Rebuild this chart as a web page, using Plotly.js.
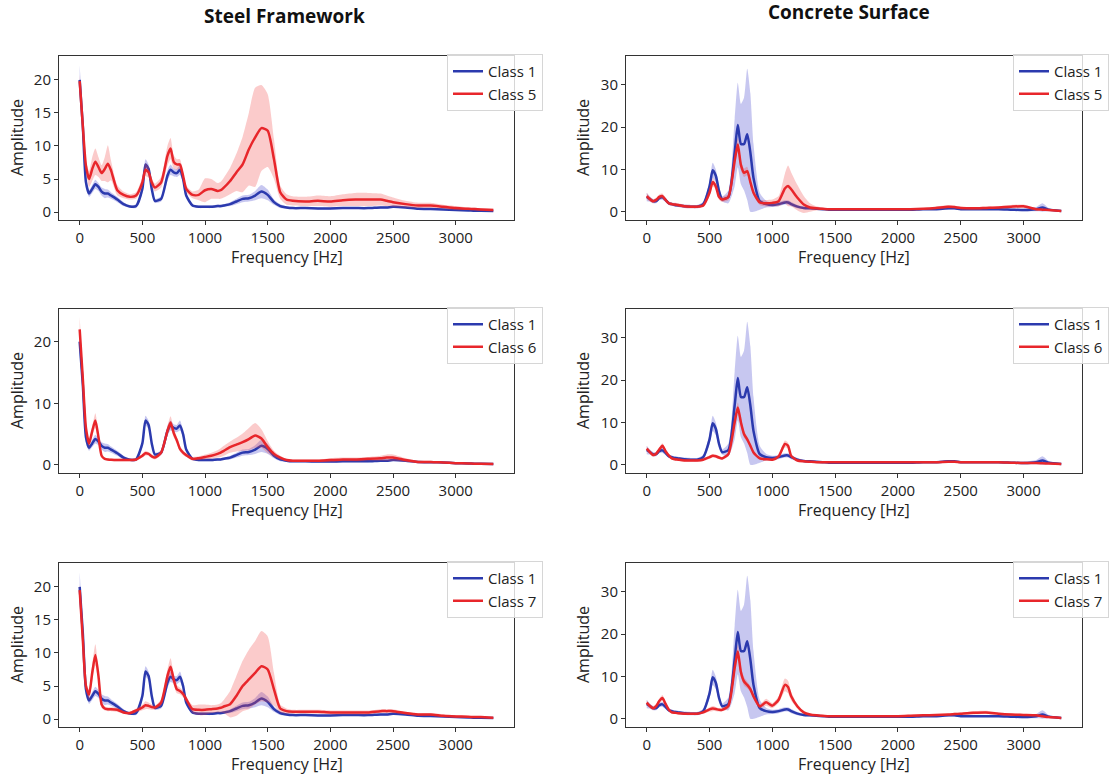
<!DOCTYPE html>
<html>
<head>
<meta charset="utf-8">
<script src="https://cdn.plot.ly/plotly-3.0.1.min.js"></script>
<style>html,body{margin:0;padding:0;background:#fff;}#chart{width:1119px;height:776px;}</style>
</head>
<body>
<div id="chart"></div>
<script>
const freq = [0,25,50,75,100,125,150,175,200,225,250,300,350,400,450,500,525,550,575,600,650,700,725,750,775,800,825,850,900,950,1000,1050,1100,1125,1150,1200,1250,1300,1350,1400,1450,1500,1550,1600,1650,1700,1800,1900,2000,2100,2200,2300,2400,2450,2500,2600,2700,2800,2900,3000,3100,3150,3200,3300];

const columnTitles = ["Steel Framework", "Concrete Surface"];
const classNames = ["Class 1", "Class 5", "Class 6", "Class 7"];
const xTicks = [0,500,1000,1500,2000,2500,3000];

const steelC1Mean = [20,13,4.5,2.8,3.5,4.2,3.8,3.1,2.8,2.8, 2.5,1.9,1.2,0.85,0.9,3.5,7.2,6.5,3.5,1.7, 2.0,5.5,6.4,6.0,5.9,6.4,5.0,2.5,1.0,0.8, 0.8,0.8,0.9,0.9,1.0,1.2,1.6,2.0,2.1,2.5, 3.1,2.6,1.5,0.9,0.7,0.6,0.6,0.55,0.55,0.6, 0.6,0.6,0.7,0.7,0.8,0.7,0.5,0.45,0.4,0.3, 0.25,0.2,0.2,0.15];
const steelC1Std = [2.2,1.2,0.8,0.5,0.6,0.7,0.6,0.6,0.7,0.6, 0.5,0.4,0.3,0.2,0.3,0.6,0.8,0.7,0.5,0.3, 0.4,0.8,0.8,0.6,0.6,0.8,0.6,0.4,0.2,0.2, 0.2,0.2,0.2,0.2,0.2,0.3,0.4,0.5,0.5,0.7, 1.0,0.8,0.4,0.3,0.2,0.15,0.15,0.15,0.15,0.15, 0.15,0.15,0.15,0.15,0.15,0.15,0.1,0.1,0.1,0.1, 0.1,0.1,0.1,0.1];

const steelC5Mean = [19.8,13,7.0,5.0,6.5,7.6,6.8,5.9,6.5,7.3, 6.3,3.3,2.6,2.3,2.5,4.5,6.4,6.0,4.5,3.7, 4.5,8.5,9.6,7.6,7.2,7.2,5.5,3.5,2.6,2.6, 3.3,3.5,3.2,3.3,3.7,4.7,6.0,7.2,9.5,11.3, 12.7,12.3,8.0,3.0,1.9,1.7,1.6,1.7,1.6,1.8, 1.9,1.9,1.9,1.7,1.5,1.2,1.0,1.0,0.8,0.6, 0.5,0.45,0.4,0.3];
const steelC5Std = [1.0,1.0,0.8,1.2,1.8,2.0,1.5,1.2,1.8,2.8, 1.5,0.8,0.5,0.4,0.5,0.8,1.0,0.8,0.6,0.6, 0.8,1.5,1.6,1.0,0.8,0.8,0.6,0.5,0.5,0.8, 1.8,1.5,1.2,1.3,1.5,2.0,2.8,4.2,5.5,7.5, 6.5,5.5,3.0,1.0,0.8,0.7,0.7,0.8,0.8,0.9, 1.0,1.0,0.9,0.8,0.7,0.5,0.4,0.4,0.3,0.3, 0.2,0.2,0.2,0.2];

const steelC6Mean = [22,14,6.0,3.5,5.5,7.2,4.5,1.5,1.0,0.9, 0.85,0.8,0.8,0.8,0.9,1.5,1.9,1.8,1.4,1.2, 2.0,5.5,6.9,5.2,4.0,2.6,2.0,1.6,1.0,1.1, 1.3,1.5,1.8,2.0,2.3,2.9,3.3,3.7,4.2,4.8, 4.3,2.9,1.8,1.2,0.8,0.7,0.7,0.7,0.8,0.9, 0.9,1.0,1.1,1.2,1.2,0.8,0.5,0.5,0.4,0.3, 0.25,0.2,0.2,0.15];
const steelC6Std = [2.0,1.0,0.6,0.6,0.8,1.2,0.8,0.3,0.2,0.2, 0.2,0.2,0.2,0.2,0.2,0.3,0.4,0.3,0.3,0.3, 0.4,0.8,1.0,0.7,0.5,0.4,0.4,0.3,0.3,0.3, 0.4,0.5,0.6,0.7,0.8,0.9,1.1,1.4,1.8,2.0, 1.5,1.0,0.5,0.3,0.2,0.2,0.2,0.2,0.3,0.3, 0.3,0.3,0.4,0.5,0.5,0.3,0.2,0.2,0.1,0.1, 0.1,0.1,0.1,0.1];

const steelC7Mean = [19.5,12,5.0,3.7,7.0,9.7,6.5,2.2,1.6,1.5, 1.5,1.4,1.0,0.9,1.3,1.75,2.1,2.0,1.8,1.75, 2.5,6.5,7.9,6.0,4.5,4.25,3.8,3.0,1.5,1.4, 1.4,1.5,1.6,1.7,1.9,2.25,3.5,5.0,6.0,7.0, 8.0,7.5,4.5,1.6,1.2,1.1,1.1,1.1,1.0,1.0, 1.0,1.0,1.2,1.2,1.2,0.9,0.7,0.7,0.5,0.4, 0.35,0.3,0.3,0.2];
const steelC7Std = [1.0,0.8,0.6,0.8,1.2,1.6,1.0,0.5,0.3,0.3, 0.3,0.3,0.2,0.2,0.3,0.4,0.6,0.5,0.4,0.3, 0.5,1.0,1.3,0.8,0.6,0.5,0.5,0.4,0.6,0.8, 0.8,0.6,0.6,0.7,1.0,2.0,3.0,3.8,4.5,4.8, 5.3,5.0,2.5,0.6,0.4,0.3,0.3,0.3,0.3,0.3, 0.3,0.3,0.3,0.3,0.3,0.2,0.2,0.2,0.2,0.2, 0.1,0.1,0.1,0.1];

const concreteC1Mean = [3.5,3.0,2.5,2.5,3.2,3.4,2.8,2.0,1.8,1.6, 1.5,1.3,1.2,1.2,1.8,6.0,9.8,8.5,5.0,3.0, 3.5,14.0,20.5,16.0,16.0,18.3,14.0,8.0,2.5,1.8, 1.6,1.8,2.2,2.2,1.8,1.2,0.9,0.8,0.7,0.6, 0.5,0.5,0.5,0.5,0.5,0.5,0.5,0.5,0.5,0.5, 0.6,0.6,0.8,0.8,0.6,0.6,0.6,0.6,0.5,0.4, 0.6,1.0,0.5,0.2];
const concreteC1Std = [1.0,0.6,0.5,0.5,0.5,0.6,0.5,0.4,0.4,0.4, 0.4,0.4,0.4,0.4,0.5,1.2,1.8,1.5,1.0,0.6, 1.5,8.0,10.0,9.5,11.0,15.5,14.0,8.0,2.0,0.8, 0.5,0.5,0.5,0.5,0.5,0.4,0.3,0.3,0.2,0.2, 0.2,0.2,0.2,0.2,0.2,0.2,0.2,0.2,0.2,0.2, 0.2,0.2,0.3,0.3,0.2,0.2,0.2,0.2,0.2,0.3, 0.5,1.0,0.4,0.1];

const concreteC5Mean = [3.7,3.0,2.5,2.8,3.5,3.7,2.8,2.0,1.8,1.7, 1.6,1.3,1.2,1.2,1.5,4.5,7.0,6.0,3.5,2.9, 3.5,12.0,15.9,11.0,9.2,9.6,7.0,4.5,2.2,2.0, 2.1,2.5,5.5,6.1,5.3,3.3,1.7,1.0,0.8,0.7, 0.6,0.6,0.6,0.6,0.6,0.6,0.6,0.6,0.6,0.6, 0.7,0.9,1.2,1.1,0.9,0.8,0.9,1.0,1.2,1.3, 0.6,0.5,0.4,0.2];
const concreteC5Std = [0.8,0.6,0.5,0.5,0.6,0.6,0.5,0.4,0.4,0.4, 0.4,0.4,0.4,0.4,0.4,0.8,1.0,0.8,0.6,0.6, 0.8,1.5,1.5,1.2,1.0,1.0,0.8,0.6,0.6,0.8, 0.8,1.2,3.5,4.8,4.0,3.0,2.0,1.0,0.5,0.3, 0.2,0.2,0.2,0.2,0.2,0.2,0.2,0.2,0.2,0.2, 0.2,0.3,0.4,0.3,0.3,0.3,0.3,0.3,0.4,0.4, 0.2,0.2,0.2,0.1];

const concreteC6Mean = [3.8,3.0,2.3,2.6,3.6,4.5,3.2,2.2,1.5,1.3, 1.2,1.0,1.0,1.0,1.2,1.8,2.1,2.0,1.7,1.5, 2.5,10.0,13.5,10.0,7.2,6.0,4.5,2.9,1.5,1.3, 1.2,2.0,4.9,4.5,2.1,1.0,0.8,0.7,0.6,0.6, 0.6,0.6,0.6,0.6,0.6,0.6,0.6,0.6,0.6,0.6, 0.6,0.6,0.7,0.7,0.6,0.6,0.6,0.6,0.5,0.4, 0.4,0.35,0.3,0.2];
const concreteC6Std = [0.6,0.5,0.4,0.4,0.5,0.6,0.5,0.3,0.3,0.3, 0.3,0.3,0.3,0.3,0.3,0.4,0.4,0.4,0.3,0.3, 0.5,1.0,1.2,1.0,0.8,0.6,0.5,0.4,0.3,0.3, 0.3,0.4,0.8,0.7,0.4,0.2,0.2,0.2,0.1,0.1, 0.1,0.1,0.1,0.1,0.1,0.1,0.1,0.1,0.1,0.1, 0.1,0.1,0.2,0.2,0.1,0.1,0.1,0.1,0.1,0.1, 0.1,0.1,0.1,0.1];

const concreteC7Mean = [3.8,3.0,2.5,3.0,4.2,4.9,3.5,2.2,1.5,1.4, 1.3,1.2,1.2,1.2,1.5,2.2,2.4,2.3,2.1,2.1, 3.0,12.0,15.9,11.0,8.8,8.0,7.0,5.3,2.9,3.9, 3.1,4.5,8.0,7.5,5.3,2.9,1.5,1.0,0.8,0.7, 0.6,0.6,0.6,0.6,0.6,0.6,0.6,0.6,0.6,0.7, 0.8,0.9,1.0,1.1,1.2,1.4,1.5,1.2,1.0,0.9, 0.8,0.6,0.4,0.2];
const concreteC7Std = [0.6,0.5,0.5,0.5,0.6,0.7,0.5,0.4,0.3,0.3, 0.3,0.3,0.3,0.3,0.3,0.5,0.6,0.5,0.4,0.4, 0.6,1.5,1.5,1.2,1.0,0.8,0.7,0.6,0.5,0.8, 0.6,0.8,1.5,1.5,1.0,0.5,0.3,0.2,0.2,0.2, 0.1,0.1,0.1,0.1,0.1,0.1,0.1,0.1,0.1,0.2, 0.2,0.2,0.2,0.3,0.3,0.4,0.4,0.3,0.3,0.2, 0.2,0.2,0.1,0.1];

const BLUE = "#2b3aae", BLUE_FILL = "rgba(70,70,205,0.30)";
const RED = "#e8262b", RED_FILL = "rgba(240,70,70,0.28)";
const FONT = "Open Sans, Noto Sans, DejaVu Sans, sans-serif";

const panels = [
  {row:0, col:0, base:[steelC1Mean, steelC1Std], other:[steelC5Mean, steelC5Std], name:classNames[1], yr:[-1.2,23.6], yt:[0,5,10,15,20]},
  {row:0, col:1, base:[concreteC1Mean, concreteC1Std], other:[concreteC5Mean, concreteC5Std], name:classNames[1], yr:[-1.95,36.8], yt:[0,10,20,30]},
  {row:1, col:0, base:[steelC1Mean, steelC1Std], other:[steelC6Mean, steelC6Std], name:classNames[2], yr:[-1.3,25.3], yt:[0,10,20]},
  {row:1, col:1, base:[concreteC1Mean, concreteC1Std], other:[concreteC6Mean, concreteC6Std], name:classNames[2], yr:[-1.95,36.8], yt:[0,10,20,30]},
  {row:2, col:0, base:[steelC1Mean, steelC1Std], other:[steelC7Mean, steelC7Std], name:classNames[3], yr:[-1.2,23.6], yt:[0,5,10,15,20]},
  {row:2, col:1, base:[concreteC1Mean, concreteC1Std], other:[concreteC7Mean, concreteC7Std], name:classNames[3], yr:[-1.95,36.8], yt:[0,10,20,30]}
];

const W = 1119, H = 776;
const colPx = [[59,514],[626,1082]];
const rowPx = [[56,220],[309,473],[563,727]];

const traces = [];
const layout = {
  width: W, height: H,
  margin: {l:0, r:0, t:0, b:0},
  paper_bgcolor: "#fff", plot_bgcolor: "#fff",
  font: {family: FONT, size: 15, color: "#222"},
  showlegend: true,
  annotations: [],
  hovermode: false
};

function band(mean, std, sign){ return mean.map((m,i)=> m + sign*std[i]); }

panels.forEach((p, k) => {
  const n = k + 1;
  const xa = n === 1 ? "x" : "x" + n;
  const ya = n === 1 ? "y" : "y" + n;
  const lg = n === 1 ? "legend" : "legend" + n;
  const series = [[p.base, BLUE, BLUE_FILL, classNames[0]], [p.other, RED, RED_FILL, p.name]];
  series.forEach(([ms, col, fcol, nm]) => {
    const [mean, std] = ms;
    traces.push({x: freq, y: band(mean, std, -1), xaxis: xa, yaxis: ya, mode: "lines",
      line: {width: 0, shape: "spline", smoothing: 0.6, color: fcol}, showlegend: false, hoverinfo: "skip"});
    traces.push({x: freq, y: band(mean, std, 1), xaxis: xa, yaxis: ya, mode: "lines", fill: "tonexty",
      fillcolor: fcol, line: {width: 0, shape: "spline", smoothing: 0.6, color: fcol}, showlegend: false, hoverinfo: "skip"});
    traces.push({x: freq, y: mean, xaxis: xa, yaxis: ya, mode: "lines", name: nm, legend: lg,
      line: {width: 2.5, color: col, shape: "spline", smoothing: 0.6}});
  });
  const cx = colPx[p.col], ry = rowPx[p.row];
  const axCommon = {showline: true, mirror: true, linecolor: "#333", linewidth: 1, ticks: "outside",
    ticklen: 4, tickcolor: "#333", showgrid: false, zeroline: false, tickfont: {size: 15, color: "#222", family: FONT}};
  layout["xaxis" + (n === 1 ? "" : n)] = Object.assign({}, axCommon, {
    domain: [cx[0]/W, cx[1]/W], anchor: ya, range: [-165, 3465], tickvals: xTicks, ticktext: xTicks.map(String)});
  layout["yaxis" + (n === 1 ? "" : n)] = Object.assign({}, axCommon, {
    domain: [1 - ry[1]/H, 1 - ry[0]/H], anchor: xa, range: p.yr, tickvals: p.yt, ticktext: p.yt.map(String)});
  layout[lg] = {x: (p.col === 0 ? 447 : 1013)/W, y: 1 - (ry[0]-2)/H, xanchor: "left", yanchor: "top",
    bgcolor: "rgba(255,255,255,0.8)", bordercolor: "#d6d6d6", borderwidth: 1, traceorder: "normal",
    font: {size: 15, color: "#222", family: FONT}, tracegroupgap: 0};
  layout.annotations.push({text: "Frequency [Hz]", xref: "paper", yref: "paper", showarrow: false,
    x: (cx[0]+cx[1])/2/W, y: 1 - (ry[1]+37)/H, xanchor: "center", yanchor: "middle", font: {size: 16, color: "#222"}});
  layout.annotations.push({text: "Amplitude", xref: "paper", yref: "paper", showarrow: false, textangle: -90,
    x: (p.col === 0 ? 17 : 583)/W, y: 1 - (ry[0]+ry[1])/2/H, xanchor: "center", yanchor: "middle", font: {size: 16, color: "#222"}});
});

layout.annotations.push({text: "<b>" + columnTitles[0] + "</b>", xref: "paper", yref: "paper", showarrow: false,
  x: 284/W, y: 1 - 16/H, xanchor: "center", yanchor: "middle", font: {size: 19, color: "#111"}});
layout.annotations.push({text: "<b>" + columnTitles[1] + "</b>", xref: "paper", yref: "paper", showarrow: false,
  x: 849/W, y: 1 - 12/H, xanchor: "center", yanchor: "middle", font: {size: 19, color: "#111"}});

Plotly.newPlot("chart", traces, layout, {staticPlot: true, displayModeBar: false});
</script>
</body>
</html>
